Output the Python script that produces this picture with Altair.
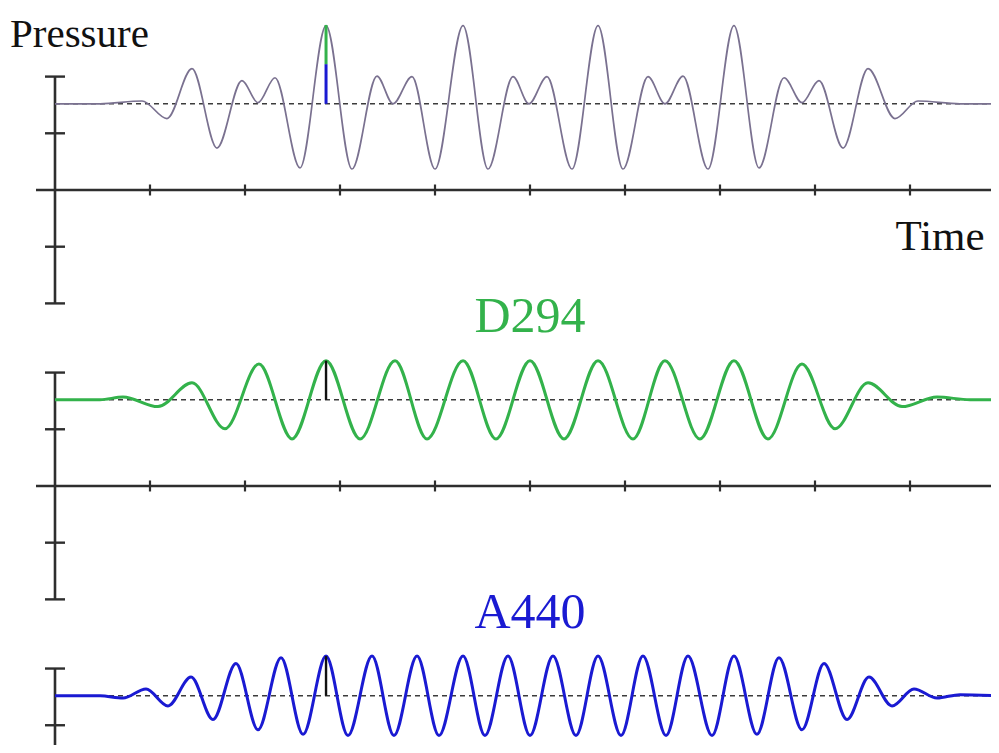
import altair as alt
import pandas as pd

# ---------------- data ----------------
# time in axis-tick units, pressure in y-tick units relative to each panel's baseline
sum_time = [0.000, 0.474, 0.916, 1.179, 1.442, 1.705, 1.968, 2.137, 2.316, 2.579,
            2.853, 3.126, 3.389, 3.558, 3.758, 4.000, 4.295, 4.558, 4.821, 4.989,
            5.179, 5.442, 5.716, 5.979, 6.242, 6.421, 6.611, 6.874, 7.147, 7.411,
            7.674, 7.863, 8.042, 8.295, 8.558, 8.842, 9.084, 9.526, 9.937]
sum_pressure = [0.00, 0.00, 0.05, -0.26, 0.62, -0.78, 0.41, 0.02, 0.46, -1.13,
                1.38, -1.15, 0.49, 0.00, 0.48, -1.15, 1.38, -1.15, 0.48, 0.00,
                0.48, -1.15, 1.38, -1.15, 0.48, 0.00, 0.49, -1.15, 1.38, -1.13,
                0.46, 0.02, 0.41, -0.78, 0.62, -0.26, 0.05, 0.00, 0.00]

d294_time = [0.000, 0.474, 0.716, 1.084, 1.442, 1.789, 2.147, 2.495, 2.853, 3.211,
             3.579, 3.916, 4.295, 4.642, 5.000, 5.358, 5.716, 6.084, 6.421, 6.789,
             7.147, 7.505, 7.863, 8.211, 8.558, 8.916, 9.284, 9.632, 9.937]
d294_pressure = [0.00, 0.00, 0.05, -0.12, 0.30, -0.51, 0.63, -0.69, 0.69, -0.69,
                 0.69, -0.69, 0.69, -0.69, 0.69, -0.69, 0.69, -0.69, 0.69, -0.69,
                 0.69, -0.69, 0.63, -0.51, 0.30, -0.12, 0.05, 0.00, 0.00]

a440_time = [0.000, 0.474, 0.716, 0.958, 1.189, 1.432, 1.663, 1.905, 2.137, 2.379,
             2.611, 2.853, 3.084, 3.337, 3.568, 3.811, 4.042, 4.295, 4.526, 4.768,
             5.000, 5.242, 5.484, 5.716, 5.958, 6.189, 6.432, 6.663, 6.916, 7.147,
             7.389, 7.621, 7.863, 8.095, 8.337, 8.568, 8.811, 9.042, 9.284, 9.526,
             9.937]
a440_pressure = [0.00, 0.00, -0.04, 0.12, -0.18, 0.33, -0.42, 0.57, -0.60, 0.67,
                 -0.68, 0.70, -0.70, 0.70, -0.70, 0.70, -0.70, 0.70, -0.70, 0.70,
                 -0.70, 0.70, -0.70, 0.70, -0.70, 0.70, -0.70, 0.70, -0.70, 0.70,
                 -0.68, 0.67, -0.60, 0.57, -0.42, 0.33, -0.18, 0.12, -0.04, 0.02,
                 0.00]

series_names = ["sum", "D294", "A440"]
series_labels = ["", "D294", "A440"]
x_tick_values = [1, 2, 3, 4, 5, 6, 7, 8, 9]
y_tick_values = [-2, -1, 1, 2]
marker_time = 2.853
marker_d294 = 0.69
marker_a440 = 0.70

# ---------------- layout ----------------
panel_axis = {"sum": 0.0, "D294": -5.22, "A440": -10.44}
baseline = 1.52
label_level = 2.72
colors = {"sum": "#7a7190", "D294": "#33b24b", "A440": "#1a1ad2"}
widths = {"sum": 1.7, "D294": 3.0, "A440": 3.0}
axis_color = "#2e2e2e"

xs = alt.Scale(domain=[-0.4947, 9.8526], nice=False, zero=False)
ys = alt.Scale(domain=[-9.7884, 3.2099], nice=False, zero=False)
X = lambda f="t": alt.X(f"{f}:Q", scale=xs, axis=None)
Y = lambda f="y": alt.Y(f"{f}:Q", scale=ys, axis=None)

waves = {
    "sum": (sum_time, sum_pressure),
    "D294": (d294_time, d294_pressure),
    "A440": (a440_time, a440_pressure),
}

layers = []

# axis lines
axis_rows = []
for s in series_names:
    a = panel_axis[s]
    axis_rows.append({"t": 0.0, "t2": 0.0, "y": a - 2, "y2": a + 2})
    axis_rows.append({"t": -0.2, "t2": 10.5, "y": a, "y2": a})
axis_df = pd.DataFrame(axis_rows)
layers.append(alt.Chart(axis_df).mark_rule(color=axis_color, strokeWidth=2.6).encode(
    x=X(), x2="t2:Q", y=Y(), y2="y2:Q"))

# y ticks (crossing)
yt = pd.DataFrame([{"t": 0.0, "y": panel_axis[s] + v} for s in series_names for v in y_tick_values])
layers.append(alt.Chart(yt).mark_tick(orient="horizontal", size=20, thickness=2.4,
                                       color=axis_color, opacity=1).encode(x=X(), y=Y()))
# x ticks (crossing)
xt = pd.DataFrame([{"t": float(v), "y": panel_axis[s]} for s in series_names for v in x_tick_values])
layers.append(alt.Chart(xt).mark_tick(orient="vertical", size=11, thickness=2.2,
                                       color=axis_color, opacity=1).encode(x=X(), y=Y()))

# dashed baselines
base_df = pd.DataFrame([{"t": 0.0, "t2": 10.5, "y": panel_axis[s] + baseline} for s in series_names])
layers.append(alt.Chart(base_df).mark_rule(color="#3c3c3c", strokeWidth=1.5, strokeDash=[5, 4]).encode(
    x=X(), x2="t2:Q", y=Y()))

# waves
for s in series_names:
    tt, pp = waves[s]
    df = pd.DataFrame({"t": tt, "y": [panel_axis[s] + baseline + p for p in pp], "i": range(len(tt))})
    layers.append(alt.Chart(df).mark_line(color=colors[s], strokeWidth=widths[s],
                                          interpolate="monotone").encode(x=X(), y=Y(), order="i:Q"))

# markers at the common peak
b0 = panel_axis["sum"] + baseline
mk_top = pd.DataFrame([
    {"t": marker_time, "y": b0, "y2": b0 + marker_a440, "c": "A440"},
    {"t": marker_time, "y": b0 + marker_a440, "y2": b0 + marker_a440 + marker_d294, "c": "D294"},
])
layers.append(alt.Chart(mk_top).mark_rule(strokeWidth=3).encode(
    x=X(), y=Y(), y2="y2:Q",
    color=alt.Color("c:N", scale=alt.Scale(domain=["D294", "A440"], range=[colors["D294"], colors["A440"]]), legend=None)))
mk_low = pd.DataFrame([
    {"t": marker_time, "y": panel_axis["D294"] + baseline, "y2": panel_axis["D294"] + baseline + marker_d294},
    {"t": marker_time, "y": panel_axis["A440"] + baseline, "y2": panel_axis["A440"] + baseline + marker_a440},
])
layers.append(alt.Chart(mk_low).mark_rule(strokeWidth=2.4, color="#111111").encode(x=X(), y=Y(), y2="y2:Q"))

# texts
font = "Liberation Serif"
layers.append(alt.Chart(pd.DataFrame([{"t": -0.4737, "y": 2.522, "s": "Pressure"}])).mark_text(
    font=font, fontSize=41, align="left", baseline="alphabetic", color="#111111").encode(x=X(), y=Y(), text="s:N"))
layers.append(alt.Chart(pd.DataFrame([{"t": 9.316, "y": -1.058, "s": "Time"}])).mark_text(
    font=font, fontSize=43, align="center", baseline="alphabetic", color="#111111").encode(x=X(), y=Y(), text="s:N"))
for s, lab in zip(series_names[1:], series_labels[1:]):
    layers.append(alt.Chart(pd.DataFrame([{"t": 5.0, "y": panel_axis[s] + label_level, "s": lab}])).mark_text(
        font=font, fontSize=50, align="center", baseline="alphabetic", color=colors[s]).encode(
        x=X(), y=Y(), text="s:N"))

chart = alt.layer(*layers).properties(
    width=983, height=737, padding=0, autosize="none"
).configure_view(stroke=None)

chart.save("out.html", embed_options={"renderer": "svg", "actions": False})
